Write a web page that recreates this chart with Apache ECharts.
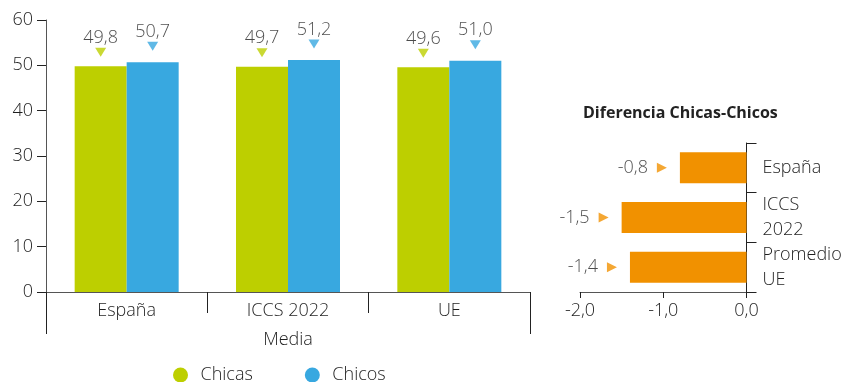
<!DOCTYPE html>
<html>
<head>
<meta charset="utf-8">
<script src="https://cdn.jsdelivr.net/npm/echarts@6/dist/echarts.min.js"></script>
<style>
  html, body { margin: 0; padding: 0; background: #ffffff; }
  #chart { width: 846px; height: 382px; }
</style>
</head>
<body>
<div id="chart"></div>
<script>
// Mean scores by group
const categories = ['España', 'ICCS 2022', 'UE'];
const chicas = [49.8, 49.7, 49.6];
const chicos = [50.7, 51.2, 51.0];
const yTicks = [0, 10, 20, 30, 40, 50, 60];

// Girls minus boys difference
const diffCategories = ['España', 'ICCS\n2022', 'Promedio\nUE'];
const diferencia = [-0.8, -1.5, -1.4];
const diffTicks = [-2.0, -1.0, 0.0];

const GREEN = '#BDCF00';
const BLUE = '#38A8E0';
const ORANGE = '#F19100';
const TEXT = '#1e1e1e';
const AXIS = '#555555';
const FONT = 'Open Sans';
const FW = 300;
const FS = 18;

const comma = (v, d) => Number(v).toFixed(d).replace('.', ',');
const txt = extra => Object.assign({ fontSize: FS, color: TEXT, fontFamily: FONT, fontWeight: FW }, extra);

const chart = echarts.init(document.getElementById('chart'), null, { renderer: 'canvas' });

chart.setOption({
  animation: false,
  textStyle: { fontFamily: FONT, color: TEXT },
  title: {
    text: 'Diferencia Chicas-Chicos',
    left: 578, top: 100,
    textStyle: { fontFamily: FONT, fontSize: 16, fontWeight: 'bold', color: '#222' }
  },
  legend: {
    data: ['Chicas', 'Chicos'],
    left: 168, top: 361,
    icon: 'circle',
    itemWidth: 30, itemHeight: 15, itemGap: 52,
    textStyle: txt({})
  },
  grid: [
    { left: 46, top: 20, width: 484, height: 272 },
    { left: 580, top: 143, width: 166.5, height: 149 }
  ],
  xAxis: [
    {
      gridIndex: 0, type: 'category', data: categories,
      axisLine: { lineStyle: { color: AXIS, width: 1 } },
      axisTick: { show: true, interval: 0, length: 21, lineStyle: { color: '#222' } },
      axisLabel: txt({ margin: 10, interval: 0 })
    },
    {
      gridIndex: 0, type: 'category', data: ['Media'], position: 'bottom',
      axisLine: { show: false },
      axisTick: { show: true, length: 42, lineStyle: { color: '#222' } },
      axisLabel: txt({ margin: 39, interval: 0 })
    },
    {
      gridIndex: 1, type: 'value', min: diffTicks[0], max: diffTicks[diffTicks.length - 1], interval: 1,
      splitLine: { show: false },
      axisLine: { show: true, lineStyle: { color: AXIS } },
      axisTick: { show: true, length: 6, lineStyle: { color: '#222' } },
      axisLabel: txt({ margin: 10, formatter: v => comma(v, 1) })
    }
  ],
  yAxis: [
    {
      gridIndex: 0, type: 'value', min: yTicks[0], max: yTicks[yTicks.length - 1], interval: 10,
      splitLine: { show: false },
      axisLine: { show: true, lineStyle: { color: AXIS } },
      axisTick: { show: true, length: 9, lineStyle: { color: '#222' } },
      axisLabel: txt({ margin: 13 })
    },
    {
      gridIndex: 1, type: 'category', data: diffCategories, inverse: true, position: 'right',
      axisLine: { show: true, lineStyle: { color: '#222' } },
      axisTick: { show: true, interval: 0, length: 10, lineStyle: { color: '#222' } },
      axisLabel: txt({ margin: 16, align: 'left', lineHeight: 25, interval: 0 })
    }
  ],
  series: [
    {
      name: 'Chicas', type: 'bar', xAxisIndex: 0, yAxisIndex: 0,
      data: chicas, barWidth: 52, barGap: '0%',
      itemStyle: { color: GREEN }
    },
    {
      name: 'Chicos', type: 'bar', xAxisIndex: 0, yAxisIndex: 0,
      data: chicos, barWidth: 52, barGap: '0%',
      itemStyle: { color: BLUE }
    },
    {
      name: 'Chicas valor', type: 'scatter', xAxisIndex: 0, yAxisIndex: 0,
      data: chicas, symbol: 'triangle', symbolRotate: 180, symbolSize: [11, 9],
      symbolOffset: [-26, -14],
      itemStyle: { color: GREEN },
      label: txt({ show: true, position: 'top', distance: 1, formatter: p => comma(p.value, 1) }),
      silent: true
    },
    {
      name: 'Chicos valor', type: 'scatter', xAxisIndex: 0, yAxisIndex: 0,
      data: chicos, symbol: 'triangle', symbolRotate: 180, symbolSize: [11, 9],
      symbolOffset: [26, -16],
      itemStyle: { color: BLUE },
      label: txt({ show: true, position: 'top', distance: 1, formatter: p => comma(p.value, 1) }),
      silent: true
    },
    {
      name: 'Diferencia', type: 'bar', xAxisIndex: 2, yAxisIndex: 1,
      data: diferencia, barWidth: 31,
      itemStyle: { color: ORANGE }
    },
    {
      name: 'Diferencia valor', type: 'scatter', xAxisIndex: 2, yAxisIndex: 1,
      data: diferencia.map((v, i) => [v, i]),
      symbol: 'triangle', symbolRotate: -90, symbolSize: [10, 10],
      symbolOffset: [-18, 0],
      itemStyle: { color: ORANGE },
      label: txt({ show: true, position: 'left', distance: 9, formatter: p => comma(p.value[0], 1) }),
      silent: true
    }
  ]
});
</script>
</body>
</html>
